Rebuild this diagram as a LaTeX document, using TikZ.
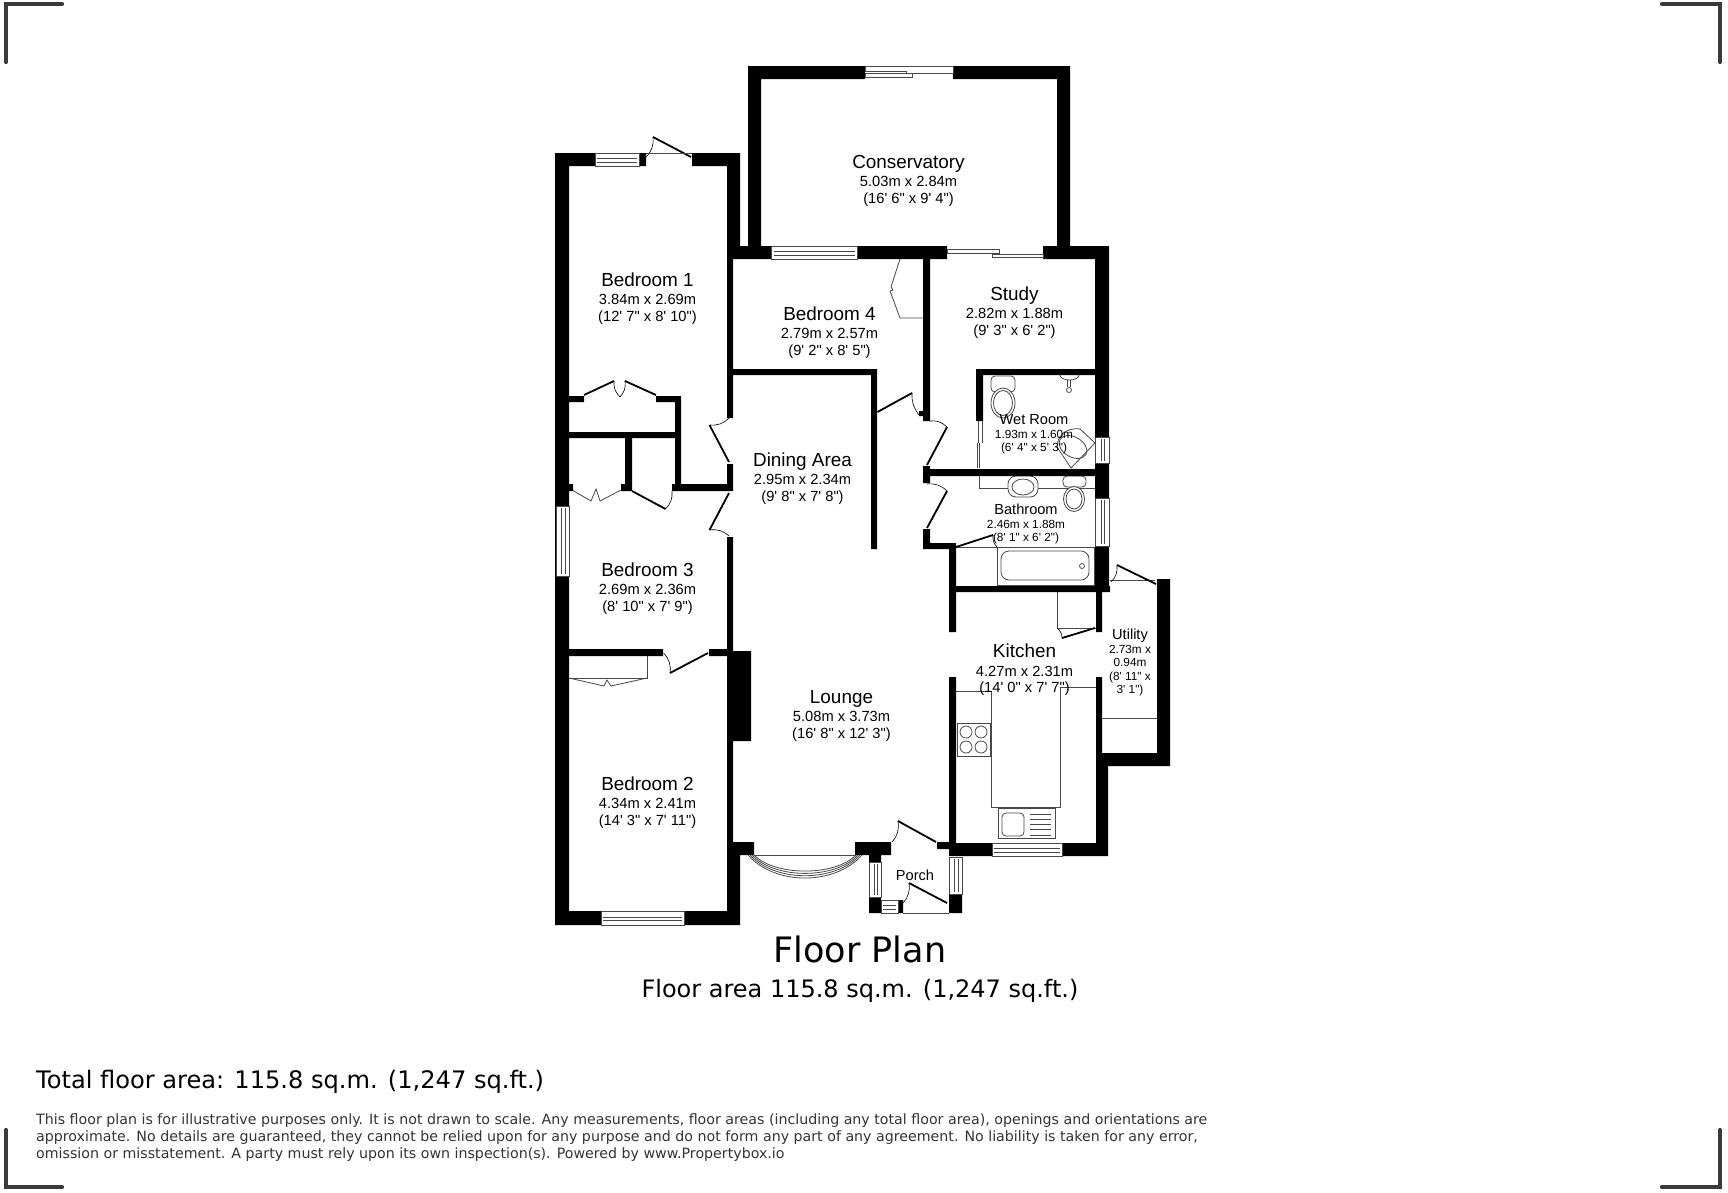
\documentclass[tikz,border=0pt]{standalone}
\usepackage{fontspec}
\usetikzlibrary{positioning}
\newfontfamily\roomfont{Liberation Sans}
\newfontfamily\noticefont{DejaVu Sans}
\definecolor{wallblack}{HTML}{000000}
\definecolor{fitting}{HTML}{484848}
\definecolor{crop}{HTML}{3A3A3A}
\definecolor{notice}{HTML}{333333}
\tikzset{
  wall/.style={fill=wallblack},
  thinline/.style={draw=fitting, line width=0.8pt},
  leaf/.style={draw=black, line width=1.8pt},
  swing/.style={draw=black, line width=0.6pt},
  glass/.style={draw=fitting, line width=0.8pt, fill=white},
  cropmark/.style={draw=crop, line width=4.2pt, line cap=round},
  roomname/.style={inner sep=0pt, text height=14pt, text depth=4pt, font=\roomfont\fontsize{18.9}{20}\selectfont},
  roomsize/.style={inner sep=0pt, align=center, font=\roomfont\fontsize{14.7}{16.6}\selectfont},
  smallname/.style={inner sep=0pt, text height=11pt, text depth=3pt, font=\roomfont\fontsize{14.6}{16}\selectfont},
  smallsize/.style={inner sep=0pt, align=center, font=\roomfont\fontsize{11.8}{13.6}\selectfont},
}
\begin{document}
\begin{tikzpicture}[x=1pt, y=-1pt]
  \useasboundingbox (0,0) rectangle (1728,1192);

  % crop marks
  \draw[cropmark] (6,62) -- (6,4) -- (62,4);
  \draw[cropmark] (1662,4) -- (1720,4) -- (1720,62);
  \draw[cropmark] (6,1130) -- (6,1187) -- (62,1187);
  \draw[cropmark] (1662,1187) -- (1720,1187) -- (1720,1130);

  % kitchen, bathroom and wet room fittings
  \draw[thinline] (956,691) -- (991,691) -- (991,807) -- (1060,807) -- (1060,687) -- (1096,687);
  \draw[thinline] (957,723) rectangle (990,756);
  \foreach \cx in {966,981} \foreach \cy in {732,747}
    \draw[thinline] (\cx,\cy) circle (6);
  \draw[thinline] (998,808) rectangle (1055,838);
  \draw[thinline, rounded corners=4pt] (1002,813) rectangle (1024,836);
  \foreach \ly in {814,819,824,829,835}
    \draw[thinline] (1030,\ly) -- (1051,\ly);
  \draw[thinline] (1057,592) -- (1057,628) -- (1096,628);
  \draw[thinline] (1102,718) -- (1157,718);
  \draw[thinline] (1110,580) -- (1155,580);

  \draw[thinline] (997,547) rectangle (1094,585);
  \draw[thinline, rounded corners=8pt] (1001,551) rectangle (1089,580);
  \draw[thinline] (1082,566) circle (2.5);
  \draw[thinline] (956,547) -- (997,547);
  \draw[thinline] (979,476) -- (979,488) -- (1095,488);
  \draw[thinline, fill=white, rounded corners=8pt] (1008,476) rectangle (1038,497);
  \draw[thinline] (1023,487) ellipse (11 and 8);
  \draw[thinline, fill=white, rounded corners=4pt] (1063,476) rectangle (1086,487);
  \draw[thinline, fill=white] (1074,499) ellipse (10.5 and 12.5);
  \draw[thinline] (1074,499) ellipse (8 and 10);

  \draw[thinline, rounded corners=4pt] (991,376) rectangle (1015,392);
  \draw[thinline, fill=white] (1003,403) ellipse (12 and 15);
  \draw[thinline] (1003,403) ellipse (9.5 and 12.5);
  \draw[thinline] (1060,375) arc (180:0:9.5 and 5);
  \draw[thinline] (1067.5,380) -- (1067.5,387) (1070.5,380) -- (1070.5,387);
  \draw[thinline] (1069,390) circle (2.5);
  \draw[thinline] (1095,443) -- (1080,429) .. controls (1065,427) and (1057,437) .. (1057,447)
    -- (1071,468) -- cycle;
  \draw[thinline, rotate around={-30:(1073,447)}] (1073,447) ellipse (15 and 10);
  \draw[thinline] (978,421) -- (978,443) (982,421) -- (982,443);
  \draw[thinline] (977,443) -- (977,468) (979.5,443) -- (979.5,468);

  % wardrobes
  \draw[thinline] (900,259) -- (891,287) -- (893,290) -- (890,291) -- (900,318) -- (923,318);
  \draw[thinline] (569,678) -- (604,686) -- (607,680) -- (611,686) -- (647,678);
  \draw[thinline] (569,678) -- (647,678) -- (647,656);
  \draw[thinline] (572,490) -- (591,501) -- (596,489) -- (600,501) -- (621,490);

  % walls
  \fill[wall]
    (748,66) rectangle (865,79)     (953,66) rectangle (1070,79)
    (748,66) rectangle (761,246)    (1057,66) rectangle (1070,246)
    (555,153) rectangle (646,166)   (692,153) rectangle (740,166)
    (555,153) rectangle (569,925)   (727,153) rectangle (740,246)
    (727,246) rectangle (947,259)
    (1043,246) rectangle (1109,259) (1095,246) rectangle (1109,592)
    (923,259) rectangle (930,421)   (727,259) rectangle (733,418)
    (733,369) rectangle (877,375)   (871,369) rectangle (877,549)
    (976,369) rectangle (1095,375)  (976,369) rectangle (983,421)
    (923,469) rectangle (1095,476)  (923,466) rectangle (930,483)
    (919,411) rectangle (923,416)
    (923,529) rectangle (930,549)   (923,543) rectangle (956,549)
    (949,543) rectangle (956,632)   (956,586) rectangle (1110,592)
    (1096,592) rectangle (1102,632) (1096,677) rectangle (1102,843)
    (1157,579) rectangle (1170,766) (1102,753) rectangle (1170,766)
    (1096,753) rectangle (1108,856)
    (949,677) rectangle (956,856)   (949,843) rectangle (1108,856)
    (937,842) rectangle (949,849)
    (569,396) rectangle (584,402)   (656,396) rectangle (681,402)
    (675,396) rectangle (681,491)   (569,432) rectangle (675,438)
    (672,484) rectangle (729,491)   (625,438) rectangle (632,491)
    (621,484) rectangle (632,491)   (569,484) rectangle (573,491)
    (727,464) rectangle (733,491)   (727,537) rectangle (733,855)
    (569,649) rectangle (663,656)   (709,649) rectangle (727,656)
    (727,651) rectangle (751,741)
    (555,911) rectangle (740,925)   (727,842) rectangle (740,925)
    (727,842) rectangle (754,855)
    (855,842) rectangle (891,855)   (869,855) rectangle (881,862)
    (869,897) rectangle (881,913)   (898,900) rectangle (903,913)
    (949,894) rectangle (962,913);
  \draw[thinline] (903,913) -- (949,913);

  % windows
  \foreach \xa/\xb/\ya/\yb in {771.5/857/246/259, 595/639/153/166,
      992/1062/843/856, 601/684/911/925, 881/898/900/913} {
    \draw[glass] (\xa,\ya) rectangle (\xb,\yb);
    \draw[thinline] (\xa+2,\ya*0.55+\yb*0.45) -- (\xb-2,\ya*0.55+\yb*0.45)
      (\xa+2,\ya*0.3+\yb*0.7) -- (\xb-2,\ya*0.3+\yb*0.7);
  }
  \foreach \xa/\xb/\ya/\yb in {1095/1109/437/463, 1095/1109/498/546, 556/569/506/576,
      869/881/862/897, 949/962/857/894} {
    \draw[glass] (\xa,\ya) rectangle (\xb,\yb);
    \draw[thinline] (\xa*0.55+\xb*0.45,\ya+2) -- (\xa*0.55+\xb*0.45,\yb-2)
      (\xa*0.3+\xb*0.7,\ya+2) -- (\xa*0.3+\xb*0.7,\yb-2);
  }

  % sliding doors
  \draw[thinline] (865,66) -- (953,66) -- (953,73) -- (906,73) -- (906,71) -- (865,71) -- cycle;
  \draw[thinline] (865,73) -- (912,73) -- (912,77) -- (865,77) -- cycle;
  \draw[thinline] (947,249.5) rectangle (999,253);
  \draw[thinline] (992,254) rectangle (1043,257);

  % bay window
  \draw[thinline] (754,855) -- (855,855);
  \foreach \dip in {0,2,4,6}
    \draw[thinline] (748+\dip,855) .. controls (775,885.7-\dip*1.55) and (835,885.7-\dip*1.55) .. (862-\dip,855);

  % door leaves with their swing
  \foreach \xh/\yh/\xt/\yt/\xs/\ys/\bend in {
      691/157/653/137/646/157/25, 729/462/709.5/425/729/418/-25, 729/493/709.5/530/729/536/25,
      877.5/412/912/393/919/415/-20, 927/465/947/427/929.5/421/-25, 927/528/947/491/927/484/-25,
      956/547/993/535/997/547/-25, 1095/628/1062/638/1057/628/-25, 1156/584/1117/565/1111/582/25,
      936/842/898/821/892/842/25, 947/903/909/883/903/903/25, 708/653/670/673/663.6/653/-25,
      632/491/665.5/509/672/491/-25, 584/395/614/381/620/397/-25, 656/395/625/381/620/397/25} {
    \draw[leaf] (\xh,\yh) -- (\xt,\yt);
    \draw[swing] (\xt,\yt) to[bend left=\bend] (\xs,\ys);
  }
  \draw[thinline] (646,153) -- (692,153);

  % room labels
  \node[roomname] (conservatory) at (908.5,163.5) {Conservatory};
  \node[roomsize] (conservatorysize) [below=3.7pt of conservatory] {5.03m x 2.84m\\(16' 6" x 9' 4")};
  \node[roomname] (bedone) at (647.5,281.5) {Bedroom 1};
  \node[roomsize] (bedonesize) [below=3.7pt of bedone] {3.84m x 2.69m\\(12' 7" x 8' 10")};
  \node[roomname] (bedfour) at (829.5,315.5) {Bedroom 4};
  \node[roomsize] (bedfoursize) [below=3.7pt of bedfour] {2.79m x 2.57m\\(9' 2" x 8' 5")};
  \node[roomname] (study) at (1014.5,295.5) {Study};
  \node[roomsize] (studysize) [below=3.7pt of study] {2.82m x 1.88m\\(9' 3" x 6' 2")};
  \node[roomname] (dining) at (802.5,461.5) {Dining Area};
  \node[roomsize] (diningsize) [below=3.7pt of dining] {2.95m x 2.34m\\(9' 8" x 7' 8")};
  \node[roomname] (bedthree) at (647.5,571.5) {Bedroom 3};
  \node[roomsize] (bedthreesize) [below=3.7pt of bedthree] {2.69m x 2.36m\\(8' 10" x 7' 9")};
  \node[roomname] (kitchen) at (1024.5,652.8) {Kitchen};
  \node[roomsize] (kitchensize) [below=3.7pt of kitchen] {4.27m x 2.31m\\(14' 0" x 7' 7")};
  \node[roomname] (lounge) at (841.5,698.5) {Lounge};
  \node[roomsize] (loungesize) [below=3.7pt of lounge] {5.08m x 3.73m\\(16' 8" x 12' 3")};
  \node[roomname] (bedtwo) at (647.5,785.5) {Bedroom 2};
  \node[roomsize] (bedtwosize) [below=3.7pt of bedtwo] {4.34m x 2.41m\\(14' 3" x 7' 11")};
  \node[smallname] (wetroom) at (1034,420) {Wet Room};
  \node[smallsize] (wetroomsize) [below=2.4pt of wetroom] {1.93m x 1.60m\\(6' 4" x 5' 3")};
  \node[smallname] (bathroom) at (1026,510) {Bathroom};
  \node[smallsize] (bathroomsize) [below=2.4pt of bathroom] {2.46m x 1.88m\\(8' 1" x 6' 2")};
  \node[smallname] (utility) at (1130,635) {Utility};
  \node[smallsize] (utilitysize) [below=2.4pt of utility] {2.73m x\\0.94m\\(8' 11" x\\3' 1")};
  \node[smallname] (porch) at (915,876) {Porch};

  % captions
  \node[inner sep=0pt, font=\noticefont\fontsize{35}{40}\selectfont] (title) at (860,949) {Floor Plan};
  \node[inner sep=0pt, font=\noticefont\fontsize{24}{28}\selectfont] (subtitle) at (860,991) {Floor area 115.8 sq.m. (1,247 sq.ft.)};
  \node[inner sep=0pt, anchor=west, font=\noticefont\fontsize{24.1}{28}\selectfont] (total) at (36,1082) {Total floor area: 115.8 sq.m. (1,247 sq.ft.)};
  \node[inner sep=0pt, anchor=north west, align=left, text=notice, font=\noticefont\fontsize{14.2}{17.2}\selectfont] (disclaimer) at (36,1113.5)
    {This floor plan is for illustrative purposes only. It is not drawn to scale. Any measurements, floor areas (including any total floor area), openings and orientations are\\
     approximate. No details are guaranteed, they cannot be relied upon for any purpose and do not form any part of any agreement. No liability is taken for any error,\\
     omission or misstatement. A party must rely upon its own inspection(s). Powered by www.Propertybox.io};
\end{tikzpicture}
\end{document}
